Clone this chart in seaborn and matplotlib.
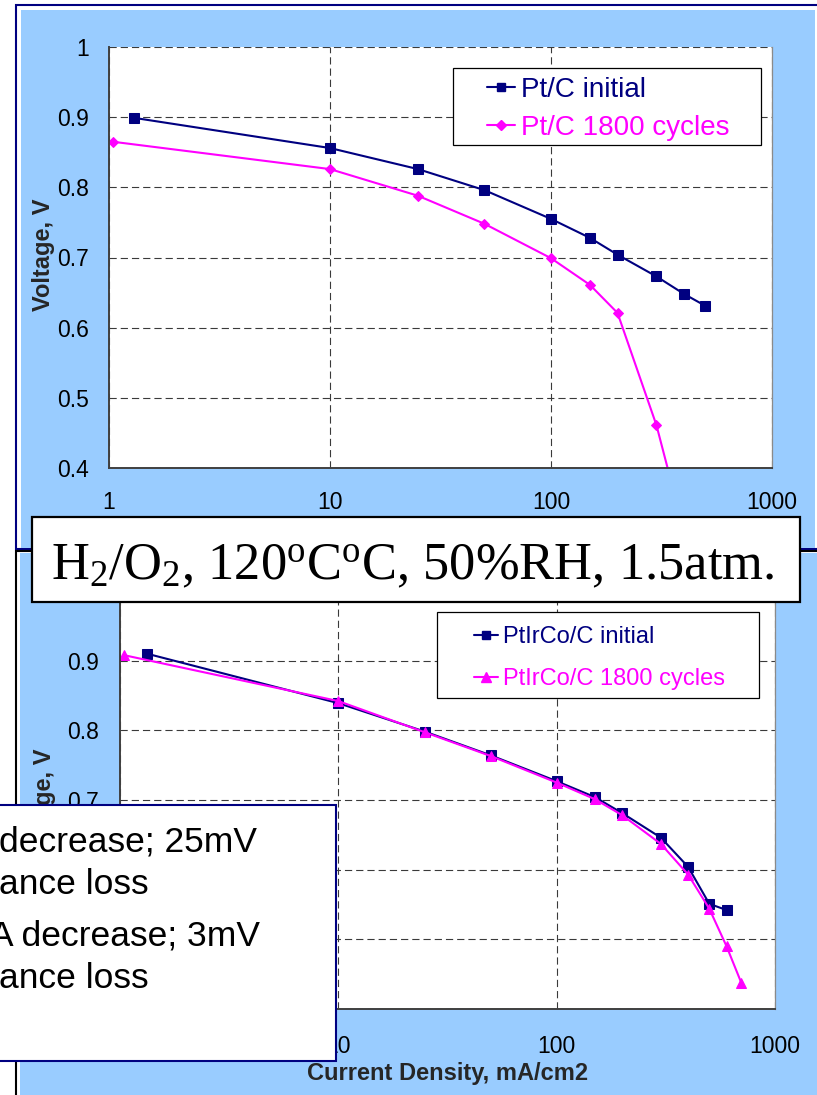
import numpy as np
import pandas as pd
import matplotlib
matplotlib.use("Agg")
import matplotlib.pyplot as plt
from matplotlib.patches import Rectangle
from matplotlib.lines import Line2D
from matplotlib.ticker import FixedLocator, NullLocator
import seaborn as sns

# ---------------- data ----------------
ptc_init_j = [1.3, 10, 25, 50, 100, 150, 200, 300, 400, 500]
ptc_init_v = [0.899, 0.856, 0.826, 0.796, 0.755, 0.728, 0.704, 0.673, 0.648, 0.631]
ptc_cyc_j = [1.04, 10, 25, 50, 100, 150, 200, 300, 400]
ptc_cyc_v = [0.865, 0.826, 0.788, 0.748, 0.699, 0.661, 0.621, 0.461, 0.31]

ptirco_init_j = [1.33, 10, 25, 50, 100, 150, 200, 300, 400, 500, 600]
ptirco_init_v = [0.910, 0.839, 0.798, 0.764, 0.727, 0.704, 0.681, 0.646, 0.604, 0.551, 0.542]
ptirco_cyc_j = [1.04, 10, 25, 50, 100, 150, 200, 300, 400, 500, 600, 700]
ptirco_cyc_v = [0.908, 0.842, 0.797, 0.763, 0.725, 0.701, 0.678, 0.637, 0.593, 0.544, 0.490, 0.438]

top_labels = ["Pt/C initial", "Pt/C 1800 cycles"]
bottom_labels = ["PtIrCo/C initial", "PtIrCo/C 1800 cycles"]
x_ticks = [1, 10, 100, 1000]
x_tick_labels = ["1", "10", "100", "1000"]
y_ticks = [0.4, 0.5, 0.6, 0.7, 0.8, 0.9, 1.0]
y_tick_labels = ["0.4", "0.5", "0.6", "0.7", "0.8", "0.9", "1"]
y_label = "Voltage, V"
x_label = "Current Density, mA/cm2"
title_text = r"H$_2$/O$_2$, 120$^{\mathrm{o}}$C$^{\mathrm{o}}$C, 50%RH, 1.5atm."
note_lines = ["decrease; 25mV", "ance loss", "A decrease; 3mV", "ance loss"]

NAVY = "#000080"
MAGENTA = "#FF00FF"
BLUE_BG = "#99CCFF"

# ---------------- figure setup ----------------
sns.set_style("white")
plt.rcParams["font.family"] = ["Liberation Sans", "DejaVu Sans"]
plt.rcParams["mathtext.fontset"] = "custom"
plt.rcParams["mathtext.rm"] = "Liberation Serif"
plt.rcParams["mathtext.it"] = "Liberation Serif:italic"
plt.rcParams["mathtext.bf"] = "Liberation Serif:bold"

W, H, DPI = 817, 1095, 100
fig = plt.figure(figsize=(W / DPI, H / DPI), dpi=DPI, facecolor="white")


def fx(x):
    return x / W


def fy(y):
    return 1 - y / H


def frect(x0, y0, x1, y1, **kw):
    return Rectangle((fx(x0), fy(y1)), (x1 - x0) / W, (y1 - y0) / H,
                     transform=fig.transFigure, **kw)


# panel backgrounds
fig.add_artist(frect(16, 5, 840, 549, facecolor="white", edgecolor=NAVY, lw=1.5, zorder=-3))
fig.add_artist(frect(20.5, 9.5, 815, 548, facecolor=BLUE_BG, edgecolor="none", zorder=-2))
fig.add_artist(frect(16, 551, 840, 1110, facecolor="white", edgecolor="black", lw=1.5, zorder=-3))
fig.add_artist(frect(20, 553, 840, 1110, facecolor=BLUE_BG, edgecolor="none", zorder=-2))

ax1 = fig.add_axes([fx(109), fy(468), (772 - 109) / W, (468 - 47) / H])
ax2 = fig.add_axes([fx(120), fy(1009), (775 - 120) / W, (1009 - 591) / H])


def style(ax):
    ax.set_facecolor("white")
    ax.set_xscale("log")
    ax.set_xlim(1, 1000)
    ax.set_ylim(0.4, 1.0)
    ax.xaxis.set_major_locator(FixedLocator(x_ticks))
    ax.xaxis.set_minor_locator(NullLocator())
    ax.set_xticklabels(x_tick_labels)
    ax.set_yticks(y_ticks)
    ax.set_yticklabels(y_tick_labels)
    ax.set_axisbelow(True)
    ax.grid(True, which="major", color="#3a3a3a", linestyle=(0, (6.5, 3.6)), linewidth=0.8)
    ax.spines["top"].set_visible(False)
    ax.spines["right"].set_color("#8a8a8a")
    ax.spines["right"].set_linewidth(0.9)
    for s in ["left", "bottom"]:
        ax.spines[s].set_color("#404040")
        ax.spines[s].set_linewidth(1.4)
    ax.tick_params(axis="both", direction="out", length=6, width=1.0, color="#404040",
                   labelsize=16.5, labelcolor="black")
    ax.tick_params(axis="y", pad=8.5)
    ax.tick_params(axis="x", pad=10.5)
    ax.set_xlabel("")
    ax.set_ylabel("")


# ---------------- top panel ----------------
df_top_a = pd.DataFrame({"j": ptc_init_j, "v": ptc_init_v})
df_top_b = pd.DataFrame({"j": ptc_cyc_j, "v": ptc_cyc_v})
sns.lineplot(data=df_top_a, x="j", y="v", ax=ax1, color=NAVY, lw=1.5, marker="s",
             markersize=7, markeredgecolor=NAVY, errorbar=None, sort=False, legend=False)
sns.lineplot(data=df_top_b, x="j", y="v", ax=ax1, color=MAGENTA, lw=1.5, marker="D",
             markersize=5.5, markeredgecolor=MAGENTA, errorbar=None, sort=False, legend=False)
style(ax1)
ax1.set_ylabel(y_label, fontsize=17, fontweight="bold", va="baseline")
ax1.yaxis.set_label_coords((50 - 109) / (772 - 109), 0.507)

# ---------------- bottom panel ----------------
df_bot_a = pd.DataFrame({"j": ptirco_init_j, "v": ptirco_init_v})
df_bot_b = pd.DataFrame({"j": ptirco_cyc_j, "v": ptirco_cyc_v})
sns.lineplot(data=df_bot_a, x="j", y="v", ax=ax2, color=NAVY, lw=1.5, marker="s",
             markersize=7, markeredgecolor=NAVY, errorbar=None, sort=False, legend=False)
sns.lineplot(data=df_bot_b, x="j", y="v", ax=ax2, color=MAGENTA, lw=1.5, marker="^",
             markersize=7.5, markeredgecolor=MAGENTA, errorbar=None, sort=False, legend=False)
style(ax2)
ax2.tick_params(axis="y", pad=9)
ax2.tick_params(axis="x", pad=13)
ax2.set_ylabel(y_label, fontsize=17, fontweight="bold", va="baseline")
ax2.yaxis.set_label_coords((51 - 120) / (775 - 120), 0.488)
ax2.set_xlabel(x_label, fontsize=17, fontweight="bold", va="baseline")
ax2.xaxis.set_label_coords(0.5, (1009 - 1080) / (1009 - 591))

# ---------------- legends (custom framed boxes) ----------------
def add_legend(ax, box, handle_x, top_y, labels, markers, msizes, fsize, spacing):
    ax.add_patch(Rectangle((fx(box[0]), fy(box[3])), (box[2] - box[0]) / W, (box[3] - box[1]) / H,
                           transform=fig.transFigure, facecolor="white", edgecolor="black",
                           lw=0.9, zorder=4, clip_on=False))
    handles = [Line2D([], [], color=c, lw=1.5, marker=m, markersize=ms, markeredgecolor=c)
               for c, m, ms in zip([NAVY, MAGENTA], markers, msizes)]
    leg = ax.legend(handles, labels, loc="upper left",
                    bbox_to_anchor=(fx(handle_x), fy(top_y)), bbox_transform=fig.transFigure,
                    frameon=False, fontsize=fsize, handlelength=1.0, handletextpad=0.22,
                    borderpad=0, borderaxespad=0, labelspacing=spacing,
                    labelcolor=[NAVY, MAGENTA], markerscale=1.0)
    leg.set_zorder(6)
    return leg


add_legend(ax1, (453, 68, 761, 145), 487, 77, top_labels, ["s", "D"], [6, 5], 20, 0.44)
add_legend(ax2, (437, 612, 759, 698), 474, 626, bottom_labels, ["s", "^"], [5.5, 6.5], 17, 0.84)

# ---------------- title box ----------------
fig.add_artist(frect(32, 517, 800, 602, facecolor="white", edgecolor="black", lw=1.6, zorder=10))
fig.text(fx(413), fy(579), title_text, fontsize=37.8, family="Liberation Serif",
         ha="center", va="baseline", color="black", zorder=11)

# ---------------- note box (lower left, partly cut off) ----------------
fig.add_artist(frect(-5, 805, 335.5, 1061, facecolor="white", edgecolor=NAVY, lw=1.5, zorder=10))
note_pos = [(-1, 851.5), (-1, 894.5), (-10, 945), (-1, 988)]
for (x, y), s in zip(note_pos, note_lines):
    fig.text(fx(x), fy(y), s, fontsize=25.5, ha="left", va="baseline", color="black", zorder=11)

fig.savefig("out.png", dpi=DPI, facecolor="white")
